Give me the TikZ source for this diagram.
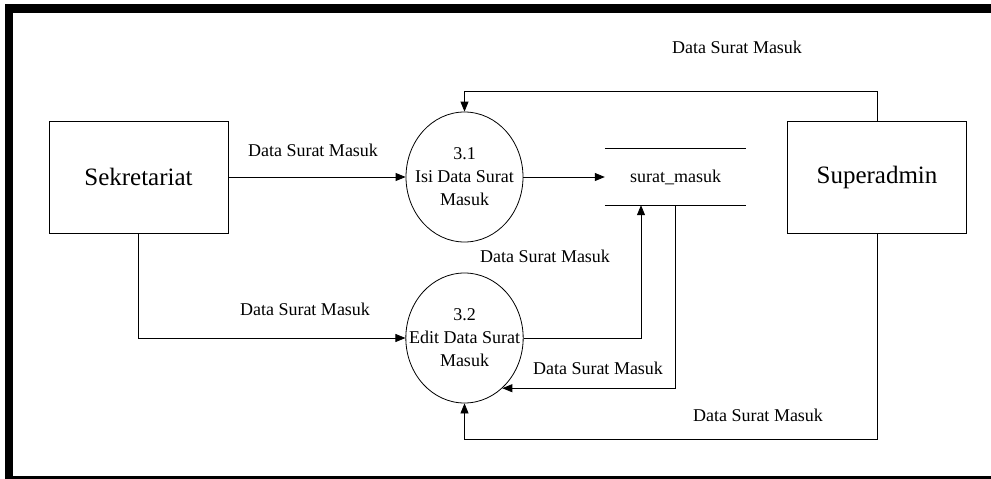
\documentclass[tikz,border=0pt]{standalone}
\usepackage{fontspec}
\setmainfont{Liberation Serif}
\usetikzlibrary{arrows.meta,shapes.geometric}
\begin{document}
\begin{tikzpicture}[x=1pt,y=-1pt,
  entity/.style={draw,line width=0.8pt,rectangle,minimum width=179pt,minimum height=112pt,inner sep=0pt,font=\fontsize{25}{30}\selectfont},
  proc/.style={draw,line width=0.8pt,ellipse,minimum width=117pt,minimum height=130pt,inner xsep=-14pt,inner ysep=0pt,align=center,font=\fontsize{18}{23}\selectfont},
  storebox/.style={rectangle,minimum width=141pt,minimum height=56pt,inner sep=0pt,font=\fontsize{18}{22}\selectfont},
  flow/.style={line width=0.8pt,-{Triangle[length=10pt,width=8pt]}},
  plain/.style={line width=0.8pt},
  lbl/.style={inner sep=0pt,font=\fontsize{18}{22}\selectfont}]
\useasboundingbox (0,0) rectangle (991,479);
% heavy frame
\fill[black] (5,4) rectangle (12.5,479);
\fill[black] (5,4) rectangle (991,12.5);
\fill[black] (5,476) rectangle (991,479);

% external entities
\node[entity] (sek) at (138.5,177) {Sekretariat};
\node[entity] (sup) at (877,177) {Superadmin};

% processes
\node[proc] (p31) at (464.5,177) {3.1\\Isi Data Surat\\Masuk};
\node[proc] (p32) at (464.5,338) {3.2\\Edit Data Surat\\Masuk};

% data store
\node[storebox] (st) at (675.5,177) {surat\_masuk};
\draw[plain] (st.north west) -- (st.north east);
\draw[plain] (st.south west) -- (st.south east);

% flows
\draw[flow] (sek.east) -- (p31.west);
\draw[flow] (p31.east) -- (st.west);
\draw[flow] (sup.north) -- ++(0,-29) -| (p31.north);
\draw[flow] (sup.south) -- ++(0,206) -| (p32.south);
\draw[flow] (sek.south) |- (p32.west);
\draw[flow] (p32.east) -| ([xshift=-34.5pt]st.south);
\draw[flow] (st.south) |- (p32.-53.1);

% flow labels
\node[lbl] (l1) at (313,150) {Data Surat Masuk};
\node[lbl] (l2) at (737,47) {Data Surat Masuk};
\node[lbl] (l3) at (305,309) {Data Surat Masuk};
\node[lbl] (l4) at (545,256) {Data Surat Masuk};
\node[lbl] (l5) at (598,368) {Data Surat Masuk};
\node[lbl] (l6) at (758,415) {Data Surat Masuk};
\end{tikzpicture}
\end{document}
